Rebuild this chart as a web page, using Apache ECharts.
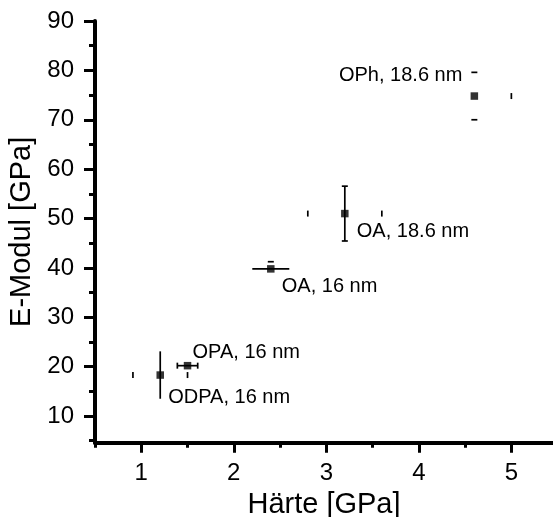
<!DOCTYPE html>
<html>
<head>
<meta charset="utf-8">
<script src="https://cdn.jsdelivr.net/npm/echarts@6/dist/echarts.min.js"></script>
<style>html,body{margin:0;padding:0;background:#fff;}#c{width:553px;height:517px;}</style>
</head>
<body>
<div id="c"></div>
<script>
// ---- data ----
const labels = ['ODPA, 16 nm', 'OPA, 16 nm', 'OA, 16 nm', 'OA, 18.6 nm', 'OPh, 18.6 nm'];
const hardness = [1.205, 1.5, 2.4, 3.2, 4.6];
const modulus = [18.3, 20.2, 39.8, 51.0, 74.8];
const hardnessErr = [0.295, 0.11, 0.2, 0.4, 0.4];
const modulusErr = [4.8, 0, 1.45, 5.55, 4.8];
const xMajorTicks = [1, 2, 3, 4, 5];
const xMinorTicks = [0.5, 1.5, 2.5, 3.5, 4.5];
const yMajorTicks = [10, 20, 30, 40, 50, 60, 70, 80, 90];
const yMinorTicks = [5, 15, 25, 35, 45, 55, 65, 75, 85];

// ---- styles (which error-bar parts are visible, label placement) ----
const errParts = [
  {vLine: 1, vTop: 0, vBot: 0, hLine: 0, hL: 1, hR: 1},
  {vLine: 0, vTop: 0, vBot: 0, hLine: 1, hL: 1, hR: 1},
  {vLine: 0, vTop: 1, vBot: 0, hLine: 1, hL: 0, hR: 0},
  {vLine: 1, vTop: 1, vBot: 1, hLine: 0, hL: 1, hR: 1},
  {vLine: 0, vTop: 1, vBot: 1, hLine: 0, hL: 0, hR: 1}
];
const labelPlace = [
  {dx: 8, dy: 22, align: 'left'},
  {dx: 5, dy: -13, align: 'left'},
  {dx: 11, dy: 18, align: 'left'},
  {dx: 12, dy: 18, align: 'left'},
  {dx: -12, dy: -21, align: 'right'}
];

const FONT = "'Liberation Sans', Arial, sans-serif";
const chart = echarts.init(document.getElementById('c'), null, {renderer: 'canvas'});

const points = hardness.map((h, i) => [h, modulus[i]]);
const errData = hardness.map((h, i) => [h, modulus[i], hardnessErr[i], modulusErr[i], i]);

const option = {
  backgroundColor: '#fff',
  animation: false,
  grid: {left: 95, top: 21, bottom: 74.3, right: 0, containLabel: false, outerBoundsMode: 'none'},
  xAxis: [
    {
      type: 'value', min: 0.5, max: 5.45, position: 'bottom',
      name: 'Härte [GPa]', nameLocation: 'middle', nameGap: 43,
      nameTextStyle: {fontFamily: FONT, fontSize: 29, color: '#000'},
      axisLine: {show: true, onZero: false, lineStyle: {color: '#000', width: 4}},
      axisTick: {show: true, customValues: xMajorTicks, length: 10, lineStyle: {color: '#000', width: 3}},
      axisLabel: {show: true, customValues: xMajorTicks, margin: 19, fontFamily: FONT, fontSize: 24, color: '#000'},
      splitLine: {show: false}
    },
    {
      type: 'value', min: 0.5, max: 5.45, position: 'bottom', offset: 0,
      axisLine: {show: false, onZero: false},
      axisTick: {show: true, customValues: xMinorTicks, length: 5, lineStyle: {color: '#000', width: 3}},
      axisLabel: {show: false},
      splitLine: {show: false}
    }
  ],
  yAxis: [
    {
      type: 'value', min: 4.6, max: 90, position: 'left',
      name: 'E-Modul [GPa]', nameLocation: 'middle', nameGap: 56,
      nameTextStyle: {fontFamily: FONT, fontSize: 29, color: '#000'},
      axisLine: {show: true, onZero: false, lineStyle: {color: '#000', width: 4}},
      axisTick: {show: true, customValues: yMajorTicks, length: 11, lineStyle: {color: '#000', width: 3}},
      axisLabel: {show: true, customValues: yMajorTicks, margin: 21, fontFamily: FONT, fontSize: 24, color: '#000'},
      splitLine: {show: false}
    },
    {
      type: 'value', min: 4.6, max: 90, position: 'left', offset: 0,
      axisLine: {show: false, onZero: false},
      axisTick: {show: true, customValues: yMinorTicks, length: 6, lineStyle: {color: '#000', width: 3}},
      axisLabel: {show: false},
      splitLine: {show: false}
    }
  ],
  series: [
    {
      type: 'custom',
      xAxisIndex: 0, yAxisIndex: 0,
      data: errData,
      z: 2,
      renderItem: function (params, api) {
        const x = api.value(0), y = api.value(1), ex = api.value(2), ey = api.value(3), i = api.value(4);
        const p = errParts[i];
        const c = api.coord([x, y]);
        const top = api.coord([x, y + ey]);
        const bot = api.coord([x, y - ey]);
        const left = api.coord([x - ex, y]);
        const right = api.coord([x + ex, y]);
        const st = {stroke: '#000', lineWidth: 1.7};
        const cap = 3;
        const els = [];
        if (p.vLine) els.push({type: 'line', shape: {x1: c[0], y1: top[1], x2: c[0], y2: bot[1]}, style: st});
        if (p.vTop) els.push({type: 'line', shape: {x1: c[0] - cap, y1: top[1], x2: c[0] + cap, y2: top[1]}, style: st});
        if (p.vBot) els.push({type: 'line', shape: {x1: c[0] - cap, y1: bot[1], x2: c[0] + cap, y2: bot[1]}, style: st});
        if (p.hLine) els.push({type: 'line', shape: {x1: left[0], y1: c[1], x2: right[0], y2: c[1]}, style: st});
        if (p.hL) els.push({type: 'line', shape: {x1: left[0], y1: c[1] - cap, x2: left[0], y2: c[1] + cap}, style: st});
        if (p.hR) els.push({type: 'line', shape: {x1: right[0], y1: c[1] - cap, x2: right[0], y2: c[1] + cap}, style: st});
        const lp = labelPlace[i];
        els.push({
          type: 'text', z2: 10,
          style: {
            x: c[0] + lp.dx, y: c[1] + lp.dy, text: labels[i],
            fill: '#000', font: '20px ' + FONT, align: lp.align, verticalAlign: 'middle'
          }
        });
        return {type: 'group', children: els};
      }
    },
    {
      type: 'scatter',
      xAxisIndex: 0, yAxisIndex: 0,
      symbol: 'rect', symbolSize: 7.5,
      itemStyle: {color: '#000'},
      data: points,
      z: 3
    }
  ]
};
chart.setOption(option);
</script>
</body>
</html>
